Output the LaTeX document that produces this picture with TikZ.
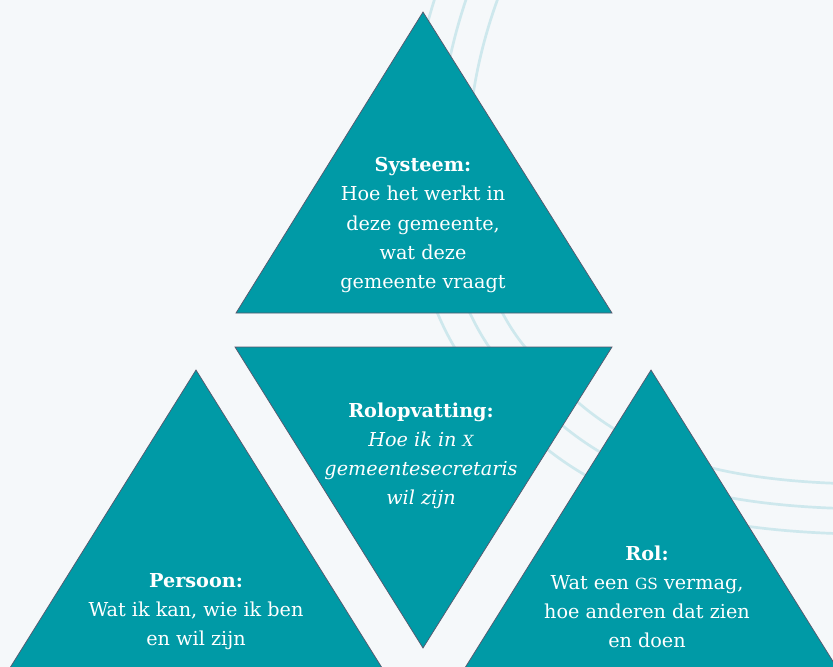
\documentclass[tikz,border=0pt]{standalone}
\usepackage{fontspec}
\setmainfont{DejaVu Serif}
\usetikzlibrary{positioning}
\definecolor{gsteal}{RGB}{0,154,166}
\definecolor{gsedge}{RGB}{88,86,108}
\definecolor{gsback}{RGB}{245,248,250}
\definecolor{gsarc}{RGB}{206,232,237}
\newcommand{\minicap}[1]{\scalebox{0.8}{#1}}

\tikzset{
  facet/.style={fill=gsteal, draw=gsedge, line width=0.6pt},
  facettext/.style={text=white, align=center, font=\fontsize{16.4}{24.8}\selectfont},
  ripple/.style={gsarc, line width=2.3pt}
}

\begin{document}
\begin{tikzpicture}[x=0.03cm,y=-0.03cm]
% Background
\useasboundingbox (0,0) rectangle (833,667);
\clip (0,0) rectangle (833,667);
\fill[gsback] (0,0) rectangle (833,667);

% Draw ripples
\foreach \s in {1, 1.077, 1.155} {
  \draw[ripple, shift={(850,160)}, scale=\s, shift={(-850,-160)}]
    (505,-20) .. controls (440,140) and (470,281) .. (525,347)
    .. controls (590,425) and (660,485) .. (880,484);
}

% Corners of the triangles
\coordinate (sysTop) at (423,12);
\coordinate (sysLeft) at (236,313);
\coordinate (sysRight) at (612,313);
\coordinate (rolopLeft) at (235,347);
\coordinate (rolopRight) at (612,347);
\coordinate (rolopBottom) at (423,648);
\coordinate (persTop) at (196,370);
\coordinate (persLeft) at (8,671);
\coordinate (persRight) at (384,671);
\coordinate (rolTop) at (651,370);
\coordinate (rolLeft) at (463,671);
\coordinate (rolRight) at (839,671);

% Draw triangles
\draw[facet] (sysTop) -- (sysLeft) -- (sysRight) -- cycle;
\draw[facet] (rolopLeft) -- (rolopRight) -- (rolopBottom) -- cycle;
\draw[facet] (persTop) -- (persLeft) -- (persRight) -- cycle;
\draw[facet] (rolTop) -- (rolLeft) -- (rolRight) -- cycle;

% Labels
\node[facettext] (systeem) at (423,225) {\textbf{Systeem:}\\Hoe het werkt in\\deze gemeente,\\wat deze\\gemeente vraagt};
\node[facettext] (rolopvatting) at (421,456) {\textbf{Rolopvatting:}\\\textit{Hoe ik in \minicap{X}}\\\textit{gemeentesecretaris}\\\textit{wil zijn}};
\node[facettext] (persoon) at (196,612) {\textbf{Persoon:}\\Wat ik kan, wie ik ben\\en wil zijn};
\node[facettext] (rol) at (647,597) {\textbf{Rol:}\\Wat een \minicap{GS} vermag,\\hoe anderen dat zien\\en doen};
\end{tikzpicture}
\end{document}
